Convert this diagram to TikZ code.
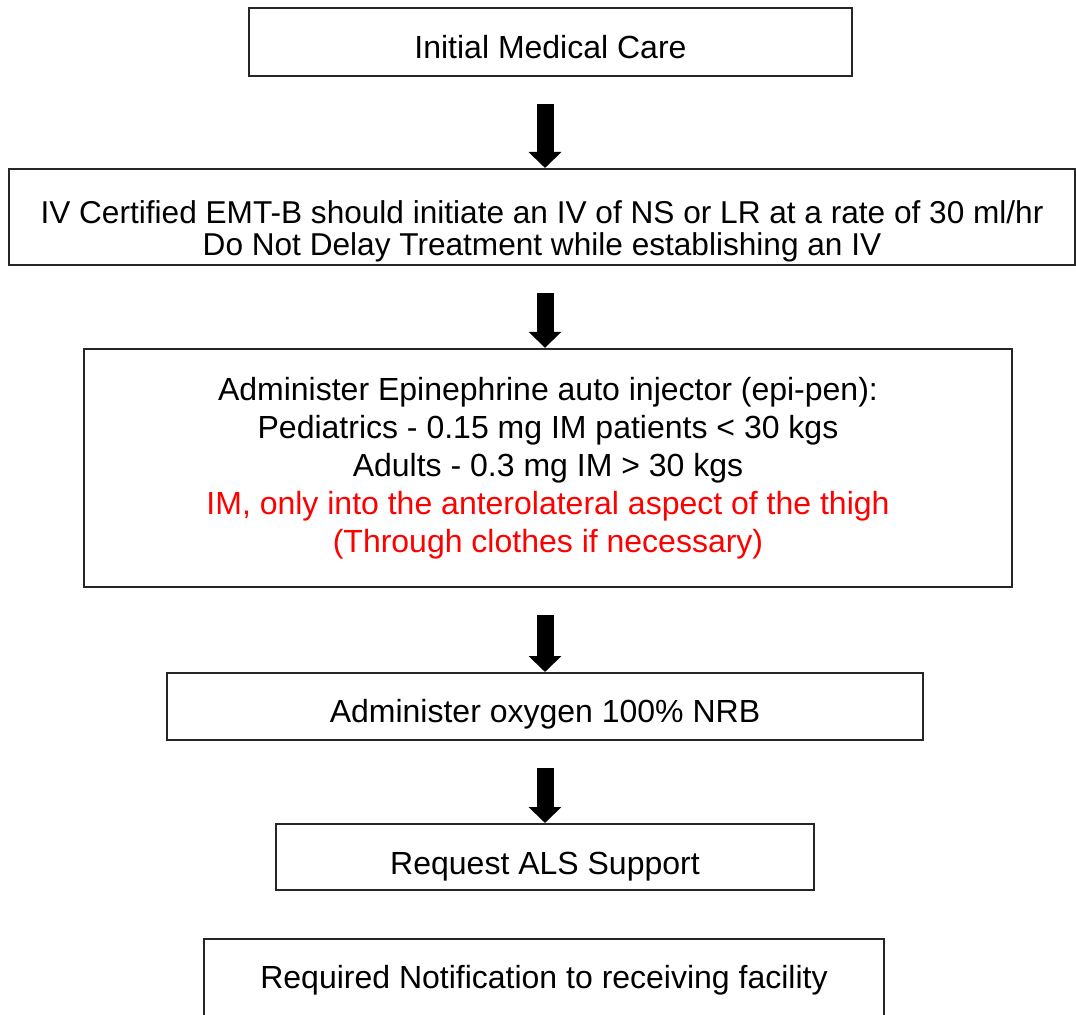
\documentclass[tikz,border=0pt]{standalone}
\usepackage{fontspec}
\setmainfont{Liberation Sans}
\usetikzlibrary{arrows.meta}

\definecolor{pureRed}{RGB}{255,0,0}

\tikzset{
  stepbox/.style={draw=black!85, line width=1.2pt, inner sep=0pt, align=center,
    font=\fontsize{16pt}{19pt}\selectfont},
  flowarrow/.style={line width=8.5pt, shorten <=13.5pt,
    -{Triangle[width=16pt,length=8pt]}}
}

\begin{document}
\begin{tikzpicture}[x=0.5pt,y=-0.5pt]
\useasboundingbox (0,0) rectangle (1076,1015);
\coordinate (axis) at (545,0);
% boxes
\node [stepbox, minimum width=301.5pt, text height=25pt, text depth=9pt, anchor=north] (care) at (550.5,7)
  {Initial Medical Care};
\node [stepbox, minimum width=533pt, text height=43pt, text depth=5pt, anchor=north,
       font=\fontsize{15.8pt}{16pt}\selectfont] (iv) at (542,168)
  {IV Certified EMT-B should initiate an IV of NS or LR at a rate of 30 ml/hr\\
   Do Not Delay Treatment while establishing an IV};
\node [stepbox, minimum width=464pt, minimum height=119pt] (epi) at (548,468)
  {Administer Epinephrine auto injector (epi-pen):\\
   Pediatrics - 0.15 mg IM patients < 30 kgs\\
   Adults - 0.3 mg IM > 30 kgs\\
   \textcolor{pureRed}{IM, only into the anterolateral aspect of the thigh}\\
   \textcolor{pureRed}{(Through clothes if necessary)}};
\node [stepbox, minimum width=378pt, text height=24.5pt, text depth=9pt, anchor=north] (oxy) at (545,672)
  {Administer oxygen 100\% NRB};
\node [stepbox, minimum width=269pt, text height=25pt, text depth=8pt, anchor=north] (als) at (545,823)
  {Request ALS Support};
\node [stepbox, minimum width=340pt, text height=24.5pt, text depth=40pt, anchor=north] (notify) at (544,938)
  {Required Notification to receiving facility};
% arrows
\draw [flowarrow] (care.south -| axis) -- (iv.north -| axis);
\draw [flowarrow] (iv.south -| axis) -- (epi.north -| axis);
\draw [flowarrow] (epi.south -| axis) -- (oxy.north -| axis);
\draw [flowarrow] (oxy.south -| axis) -- (als.north -| axis);
\end{tikzpicture}
\end{document}
